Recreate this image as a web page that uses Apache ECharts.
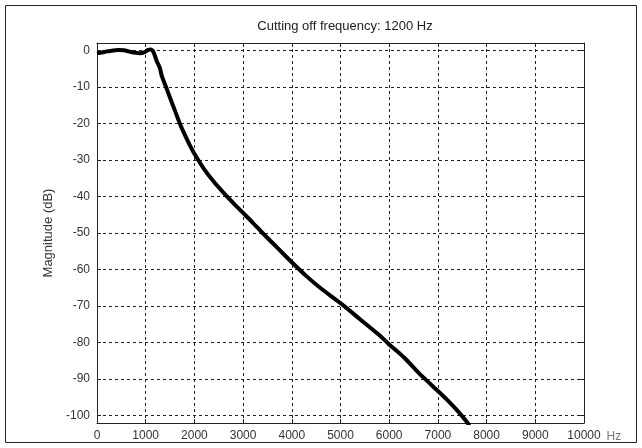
<!DOCTYPE html>
<html>
<head>
<meta charset="utf-8">
<script src="https://cdn.jsdelivr.net/npm/echarts@6/dist/echarts.min.js"></script>
<style>
  html, body { margin: 0; padding: 0; background: #fff; }
  #main { width: 642px; height: 448px; }
</style>
</head>
<body>
<div id="main"></div>
<script>
// frequency response
var freq = [0, 100, 200, 300, 430, 550, 650, 750, 883, 980, 1050, 1100, 1160, 1225, 1290, 1330, 1417, 1500, 1600, 1700, 1800, 1900, 2000, 2200, 2400, 2600, 2800, 3000, 3200, 3400, 3700, 4000, 4300, 4600, 5000, 5400, 5800, 6000, 6300, 6600, 6900, 7200, 7400, 7600, 7650];
var magDb = [-0.8, -0.6, -0.3, -0.1, 0.1, 0.0, -0.3, -0.6, -0.8, -0.5, 0.1, 0.2, -0.5, -2.9, -4.8, -7, -10, -13, -16.5, -20, -23, -25.8, -28.3, -32.5, -36, -39, -41.8, -44.5, -47.2, -50, -54, -58, -61.8, -65.2, -69.2, -73.6, -78, -80.5, -84, -88.2, -92, -95.8, -98.6, -101.8, -103];
var yTicks = [0, -10, -20, -30, -40, -50, -60, -70, -80, -90, -100];

var chart = echarts.init(document.getElementById('main'));
var font = 'Liberation Sans, Arial, sans-serif';
var dashed = { show: true, lineStyle: { color: '#222', type: [3, 3], width: 1 } };
var solid = { show: true, onZero: false, lineStyle: { color: '#222', width: 1 } };

var pts = [];
for (var i = 0; i < freq.length; i++) pts.push([freq[i], magDb[i]]);

var option = {
  animation: false,
  textStyle: { fontFamily: font },
  title: {
    text: 'Cutting off frequency: 1200 Hz',
    left: 340, textAlign: 'center', top: 15,
    textStyle: { fontSize: 13, fontWeight: 'normal', color: '#222', fontFamily: font }
  },
  graphic: [{
    type: 'rect', shape: { x: 5.5, y: 5.5, width: 631, height: 437 },
    style: { fill: null, stroke: '#222', lineWidth: 1 }
  }],
  grid: { left: 97, right: 58, top: 43, bottom: 25 },
  xAxis: [{
    type: 'value', min: 0, max: 10000, interval: 1000, position: 'bottom',
    name: 'Hz', nameLocation: 'end', nameGap: 22,
    nameTextStyle: { color: '#777', fontSize: 12, verticalAlign: 'top', padding: [8, 0, 0, 0] },
    axisLine: solid,
    axisTick: { show: true, inside: true, length: 4, lineStyle: { color: '#222' } },
    axisLabel: { color: '#333', fontSize: 12, margin: 7, formatter: function (v) { return String(v); } },
    splitLine: dashed
  }, {
    type: 'value', min: 0, max: 10000, interval: 1000, position: 'top',
    axisLine: solid,
    axisTick: { show: true, inside: true, length: 4, lineStyle: { color: '#222' } },
    axisLabel: { show: false }, splitLine: { show: false }
  }],
  yAxis: [{
    type: 'value', min: -102, max: 2, position: 'left',
    name: 'Magnitude (dB)', nameLocation: 'middle', nameGap: 40, nameRotate: 90,
    nameTextStyle: { color: '#333', fontSize: 13 },
    axisLine: solid,
    axisTick: { show: true, inside: true, length: 4, customValues: yTicks, lineStyle: { color: '#222' } },
    axisLabel: { color: '#333', fontSize: 12, margin: 7, customValues: yTicks },
    splitLine: dashed
  }, {
    type: 'value', min: -102, max: 2, position: 'right',
    axisLine: solid,
    axisTick: { show: true, inside: true, length: 4, customValues: yTicks, lineStyle: { color: '#222' } },
    axisLabel: { show: false, customValues: yTicks }, splitLine: { show: false }
  }],
  series: [{
    type: 'line',
    data: pts,
    xAxisIndex: 0, yAxisIndex: 0,
    showSymbol: false,
    smooth: 0.3,
    clip: true,
    lineStyle: { color: '#000', width: 4 }
  }]
};
chart.setOption(option);
</script>
</body>
</html>
